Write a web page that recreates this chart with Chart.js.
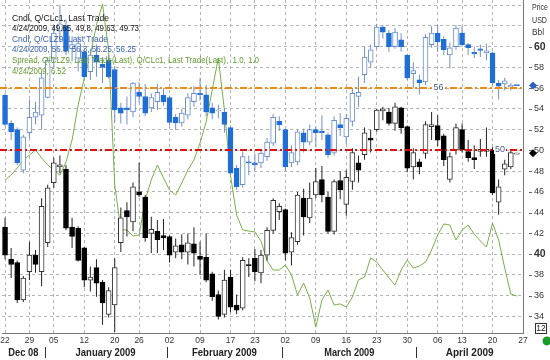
<!DOCTYPE html>
<html>
<head>
<meta charset="utf-8">
<script src="https://cdn.jsdelivr.net/npm/chart.js@4.4.0/dist/chart.umd.min.js"></script>
<style>
  html, body { margin: 0; padding: 0; background: #fff; }
  #wrap { width: 550px; height: 360px; position: relative; }
</style>
</head>
<body>
<div id="wrap"><canvas id="chart"></canvas></div>
<script>
// trading days shown on the chart (x = index into this list)
const dates = ['12/22','12/23','12/24','12/26','12/29','12/30','12/31',
  '01/02','01/05','01/06','01/07','01/08','01/09','01/12','01/13','01/14','01/15','01/16',
  '01/20','01/21','01/22','01/23','01/26','01/27','01/28','01/29','01/30',
  '02/02','02/03','02/04','02/05','02/06','02/09','02/10','02/11','02/12','02/13',
  '02/17','02/18','02/19','02/20','02/23','02/24','02/25','02/26','02/27',
  '03/02','03/03','03/04','03/05','03/06','03/09','03/10','03/11','03/12','03/13',
  '03/16','03/17','03/18','03/19','03/20','03/23','03/24','03/25','03/26','03/27','03/30','03/31',
  '04/01','04/02','04/03','04/06','04/07','04/08','04/09','04/13','04/14','04/15','04/16','04/17',
  '04/20','04/21','04/22','04/23','04/24'];

// Q/CLc1 candles
const clOpen  = [42.6,39.5,39.2,35.6,38.3,39.9,38.3,41.1,46.9,48.4,48.2,42.6,42.5,40.6,37.5,38.7,37.3,34.2,35.1,41.1,44.2,43.1,46.0,45.5,42.0,42.2,41.8,41.7,40.2,40.9,40.2,41.0,39.8,39.7,38.1,36.1,34.2,37.8,35.1,34.8,39.0,39.6,38.2,39.9,42.3,44.1,44.3,40.2,41.2,45.4,43.5,45.7,47.2,45.5,42.2,47.1,44.8,47.0,48.8,49.6,51.2,52.0,53.8,53.7,52.6,54.1,52.3,48.4,48.9,49.7,52.3,52.4,51.4,47.2,50.05,52.0,49.9,49.3,49.9,49.9,50.0,45.0,48.2,48.4,49.65];
const clHigh  = [43.5,40.6,39.4,37.9,41.2,40.4,45.4,46.7,49.3,49.5,48.6,43.5,42.7,40.7,38.8,39.5,37.5,36.8,39.6,44.5,45.0,46.9,48.8,45.7,43.6,43.3,43.4,41.8,41.5,41.9,42.0,42.6,41.2,42.0,38.3,36.5,38.5,38.5,36.1,39.7,39.6,40.5,40.4,42.6,45.4,44.9,44.4,42.1,46.0,46.3,46.9,48.3,48.5,46.0,47.2,48.0,48.1,50.2,49.5,52.2,52.0,54.0,54.2,54.1,54.6,54.2,52.4,50.2,49.2,52.8,53.7,53.4,51.6,49.8,52.6,52.6,51.0,50.5,51.1,52.2,50.3,47.2,49.1,50.0,49.8];
const clLow   = [39.5,37.7,35.3,35.4,37.5,38.2,36.9,40.7,46.4,47.8,42.3,40.6,39.3,36.8,36.4,35.9,33.2,33.9,32.5,40.2,41.7,42.2,45.5,41.2,40.1,40.1,40.4,39.2,39.6,39.5,39.0,38.8,38.0,37.3,35.5,33.7,33.9,34.4,34.2,34.6,37.8,37.4,37.2,39.4,42.0,43.3,39.4,38.9,40.9,41.8,43.0,45.4,45.0,42.0,41.9,45.3,43.7,46.2,46.9,49.1,49.8,51.8,52.9,52.4,51.9,51.6,47.9,47.2,47.7,49.2,51.0,50.4,48.5,46.9,49.6,49.8,48.9,48.2,49.4,49.4,45.7,43.8,47.6,48.2,49.63];
const clClose = [39.9,39.0,35.6,37.7,39.9,39.0,44.6,46.4,48.8,48.6,42.5,41.7,39.4,37.5,37.8,37.2,35.3,36.5,38.7,43.5,43.6,46.5,45.7,41.6,42.4,41.4,41.6,39.9,40.8,40.2,41.1,40.1,39.5,37.5,35.9,34.0,37.5,34.9,34.6,39.4,38.9,38.3,39.9,42.3,45.2,44.6,40.1,41.6,45.7,43.6,45.4,47.0,45.7,42.2,47.0,46.2,47.4,49.8,48.1,51.7,51.0,53.9,54.0,52.6,54.2,52.2,48.3,49.8,48.4,52.5,52.5,51.0,49.1,49.4,52.2,50.05,49.3,49.1,50.1,50.1,45.9,46.5,48.7,49.8,49.73];

// Q/CLZ9 candles
const z9Open  = [55.3,52.6,52.0,48.1,51.7,53.2,53.4,55.1,58.8,61.5,62.0,59.8,58.9,59.5,57.6,59.2,58.3,58.7,57.8,54.1,54.1,53.7,55.6,55.2,54.1,54.7,55.3,55.1,53.2,52.65,53.4,54.7,55.5,55.35,54.1,53.8,53.7,52.2,48.3,46.7,48.9,48.8,48.8,49.4,50.7,52.8,52.0,48.8,48.9,51.7,50.8,52.0,51.85,51.5,49.8,52.5,51.3,52.8,55.2,57.3,58.5,60.0,61.9,61.3,60.0,60.65,59.2,57.4,56.8,56.6,60.2,61.3,60.7,59.2,60.0,61.3,60.2,59.45,59.8,59.4,59.4,56.5,56.4,56.1,56.3];
const z9High  = [55.5,52.9,52.2,51.5,54.9,54.7,57.5,59.0,62.0,64.0,62.6,61.0,61.0,59.8,59.8,60.2,59.0,59.2,58.1,54.6,55.2,56.6,56.6,56.4,55.5,56.4,56.0,55.3,53.5,54.0,55.5,56.2,57.0,56.3,54.6,54.4,54.0,52.4,48.6,49.9,49.5,49.7,50.1,51.2,53.5,53.3,52.1,50.5,52.0,52.1,52.5,52.3,53.4,51.7,53.3,53.6,53.5,56.0,57.1,60.0,60.2,62.2,62.1,61.6,61.8,61.3,59.3,58.5,57.3,61.2,62.0,62.1,61.0,60.4,62.1,62.0,60.35,60.0,60.2,60.3,59.5,56.8,57.0,56.5,56.3];
const z9Low   = [52.3,51.0,48.6,47.8,51.2,52.5,52.0,55.0,58.0,60.5,59.2,58.6,57.6,56.9,56.8,57.1,56.5,56.9,52.7,52.6,52.5,53.2,54.6,53.3,53.7,53.9,54.3,52.4,52.0,52.3,53.0,54.2,54.8,53.3,53.0,53.1,51.7,47.5,46.2,46.4,47.6,48.1,48.3,49.0,50.4,51.9,48.0,48.4,48.6,49.8,50.5,50.3,51.0,49.3,49.5,51.4,50.6,52.3,54.2,56.5,58.0,59.8,60.8,59.5,59.8,59.5,56.8,56.0,55.4,56.3,59.9,59.5,59.2,57.9,59.7,60.0,59.2,58.9,59.0,58.7,56.3,54.9,55.8,55.8,56.25];
const z9Close = [52.5,51.8,48.8,51.3,53.2,53.7,57.0,58.7,61.3,62.2,59.6,60.2,60.3,57.1,59.2,58.5,58.0,57.1,53.9,53.6,53.9,56.5,55.2,53.6,55.1,55.6,54.7,52.7,52.65,53.6,55.1,55.5,55.35,53.7,53.6,53.9,52.5,47.8,46.5,49.4,48.8,48.6,49.75,50.8,53.2,52.45,48.4,49.8,51.8,50.8,52.0,51.7,51.7,49.6,52.9,52.2,53.1,55.5,55.6,59.0,59.7,61.9,61.4,60.0,61.4,60.0,57.0,57.7,56.5,60.9,61.3,60.45,59.7,59.9,61.8,60.2,59.9,59.3,59.65,59.6,56.5,56.2,56.7,56.3,56.25];

// Spread, Q/CLZ9 - Q/CLc1 (hidden scale)
const spread = [12.95,13.22,13.61,14.05,14.33,14.61,14.17,13.78,13.50,13.22,13.94,15.16,17.10,18.60,19.87,21.53,22.70,20.15,12.67,10.18,10.18,9.84,9.90,11.84,12.95,13.78,13.06,12.39,12.12,12.78,13.50,14.05,15.00,16.16,17.93,19.71,16.82,13.20,11.01,10.18,10.12,10.07,9.57,8.46,7.96,7.96,8.24,7.69,6.57,7.24,6.41,4.80,6.30,6.85,6.02,6.08,5.91,6.46,7.41,7.57,8.63,8.40,7.96,7.52,7.13,7.96,8.51,8.07,8.18,8.40,9.07,9.90,10.51,10.45,9.62,10.18,10.45,9.95,9.57,9.23,10.56,9.62,8.07,6.63,6.52];

// axis ticks
const xTickIdx = [0,4,8,13,18,22,27,32,37,41,46,51,56,61,66,71,75,80,85];
const xTickLabels = ['22','29','05','12','20','26','02','09','17','23','02','09','16','23','30','06','13','20','27'];
const yTickVals = [34,36,38,40,42,44,46,48,50,52,54,56,58,60,62,64];
const monthNames = ['Dec 08','January 2009','February 2009','March 2009','April 2009'];

const refLines = [
  { value: 56, color: '#f08a10', label: '56', at: 70.3 },
  { value: 50, color: '#dd1010', label: '50', at: 80.4 }
];

const legendLines = [
  ['Cndl, Q/CLc1, Last Trade', '#111', 97],
  ['4/24/2009, 49.65, 49.8, 49.63, 49.73', '#111', 127],
  ['Cndl, Q/CLZ9, Last Trade', '#3a64b0', 96],
  ['4/24/2009, 56.3, 56.3, 56.25, 56.25', '#3a64b0', 124],
  ['Spread, Q/CLZ9, Last Trade(Last), Q/CLc1, Last Trade(Last),  1.0, 1.0', '#5f9a2c', 247],
  ['4/24/2009, 6.52', '#5f9a2c', 54]
];

const FONT = '"Liberation Sans", Arial, sans-serif';
const last = dates.length - 1;

function bodyData(o, c) { return o.map((v, i) => ({ x: i, y: [v, c[i]] })); }
function wickData(l, h) { return l.map((v, i) => ({ x: i, y: [v, h[i]] })); }

const extras = {
  id: 'extras',
  beforeDraw(chart) {
    const ctx = chart.ctx;
    ctx.save();
    ctx.fillStyle = '#fff';
    ctx.fillRect(0, 0, chart.width, chart.height);
    ctx.restore();
  },
  afterDatasetsDraw(chart) {
    const { ctx, chartArea: a } = chart;
    const x = chart.scales.x, y = chart.scales.y;
    ctx.save();
    // horizontal reference lines
    refLines.forEach(r => {
      const py = Math.round(y.getPixelForValue(r.value));
      ctx.strokeStyle = r.color;
      ctx.lineWidth = 2;
      ctx.setLineDash([7, 3, 2, 3]);
      ctx.beginPath();
      ctx.moveTo(0, py);
      ctx.lineTo(a.right, py);
      ctx.stroke();
      ctx.setLineDash([]);
      ctx.font = '9px ' + FONT;
      const tx = x.getPixelForValue(r.at);
      const w = ctx.measureText(r.label).width;
      ctx.fillStyle = '#fff';
      ctx.fillRect(tx - 1, py - 4, w + 2, 8);
      ctx.fillStyle = '#4a5a88';
      ctx.textBaseline = 'middle';
      ctx.fillText(r.label, tx, py);
    });
    ctx.restore();
  },
  afterDraw(chart) {
    const { ctx } = chart;
    const x = chart.scales.x, y = chart.scales.y;
    ctx.save();
    // legend text
    ctx.textBaseline = 'middle';
    ctx.font = '9.5px ' + FONT;
    legendLines.forEach((l, k) => {
      ctx.fillStyle = l[1];
      ctx.fillText(l[0], 12, 18 + k * 10.6, l[2]);
    });
    // axis title
    ctx.fillStyle = '#333';
    ctx.font = '9px ' + FONT;
    [['Price', 16], ['USD', 15], ['Bbl', 12]].forEach((t, k) => ctx.fillText(t[0], 532, 8 + k * 12.5, t[1]));
    // small tick dashes on price axis
    ctx.strokeStyle = '#666';
    ctx.lineWidth = 1;
    yTickVals.filter(v => v <= 60).forEach(v => {
      const py = Math.round(y.getPixelForValue(v)) + 0.5;
      ctx.beginPath();
      ctx.moveTo(529, py);
      ctx.lineTo(532, py);
      ctx.stroke();
    });
    // last value markers
    const diamond = (py, col) => {
      ctx.fillStyle = col;
      ctx.beginPath();
      ctx.moveTo(533, py - 4);
      ctx.lineTo(537, py);
      ctx.lineTo(533, py + 4);
      ctx.lineTo(529, py);
      ctx.closePath();
      ctx.fill();
    };
    diamond(y.getPixelForValue(z9Close[last]), '#2a62c0');
    diamond(y.getPixelForValue(clClose[last]), '#000');
    // months
    const bounds = [-0.5];
    for (let i = 1; i < dates.length; i++) {
      if (dates[i].slice(0, 2) !== dates[i - 1].slice(0, 2)) bounds.push(i - 0.5);
    }
    bounds.push(x.max);
    ctx.fillStyle = '#222';
    ctx.strokeStyle = '#333';
    ctx.font = 'bold 10px ' + FONT;
    ctx.textAlign = 'center';
    monthNames.forEach((m, k) => {
      const cx = (x.getPixelForValue(bounds[k]) + x.getPixelForValue(bounds[k + 1])) / 2;
      ctx.fillText(m, cx, 353, m.length * 5);
      if (k > 0) {
        const bx = Math.round(x.getPixelForValue(bounds[k])) + 0.5;
        ctx.beginPath();
        ctx.moveTo(bx, 347);
        ctx.lineTo(bx, 358);
        ctx.stroke();
      }
    });
    // bottom right box and dot
    ctx.strokeStyle = '#333';
    ctx.strokeRect(535.5, 323.5, 11, 10);
    ctx.fillStyle = '#222';
    ctx.font = '8.5px ' + FONT;
    ctx.fillText('12', 541, 329);
    ctx.fillStyle = '#1c9a2a';
    ctx.beginPath();
    ctx.arc(547, 341, 4.5, 0, Math.PI * 2);
    ctx.fill();
    ctx.restore();
  }
};

const upOr = (o, c, a, b) => ctx => (c[ctx.dataIndex] >= o[ctx.dataIndex] ? a : b);

const chart = new Chart(document.getElementById('chart'), {
  type: 'bar',
  data: {
    datasets: [
      {
        type: 'line', label: 'Spread', yAxisID: 'ys',
        data: spread.map((v, i) => ({ x: i, y: v })),
        borderColor: '#78b04a', borderWidth: 1, pointRadius: 0, tension: 0, order: 10
      },
      {
        label: 'CLZ9 wick', yAxisID: 'y', data: wickData(z9Low, z9High),
        backgroundColor: '#7290c4', barThickness: 1, grouped: false, inflateAmount: 0, order: 6
      },
      {
        label: 'CLZ9', yAxisID: 'y', data: bodyData(z9Open, z9Close),
        backgroundColor: upOr(z9Open, z9Close, '#fff', '#1f6ed6'),
        borderColor: upOr(z9Open, z9Close, '#6a8cc6', '#1f6ed6'),
        borderWidth: 1, borderSkipped: false, barThickness: 5, minBarLength: 1, grouped: false, order: 5
      },
      {
        label: 'CLc1 wick', yAxisID: 'y', data: wickData(clLow, clHigh),
        backgroundColor: '#222', barThickness: 1, grouped: false, inflateAmount: 0, order: 4
      },
      {
        label: 'CLc1', yAxisID: 'y', data: bodyData(clOpen, clClose),
        backgroundColor: upOr(clOpen, clClose, '#fff', '#000'),
        borderColor: upOr(clOpen, clClose, '#333', '#000'),
        borderWidth: 1, borderSkipped: false, barThickness: 5, minBarLength: 1, grouped: false, order: 3
      }
    ]
  },
  options: {
    responsive: true,
    maintainAspectRatio: false,
    animation: false,
    layout: { padding: { left: 2, top: 0, right: 0, bottom: 0 } },
    plugins: { legend: { display: false }, tooltip: { enabled: false } },
    scales: {
      x: {
        type: 'linear', min: -0.5, max: 85, offset: false,
        grid: { color: '#b4b4b4', drawTicks: false, offset: false },
        border: { display: true, color: '#777', dash: [3, 3] },
        afterBuildTicks: s => { s.ticks = xTickIdx.map(v => ({ value: v })); },
        afterFit: s => { s.height = 27; s.paddingLeft = 0; s.paddingRight = 0; },
        ticks: {
          autoSkip: false, maxRotation: 0, padding: 3, color: '#333',
          font: { family: FONT, size: 8.5 },
          callback: (v, i) => xTickLabels[i]
        }
      },
      y: {
        type: 'linear', position: 'right', min: 32.4, max: 64.5,
        grid: { color: '#b4b4b4', drawTicks: false },
        border: { display: true, color: '#777', dash: [3, 3] },
        afterBuildTicks: s => { s.ticks = yTickVals.map(v => ({ value: v })); },
        afterFit: s => { s.width = 27; s.paddingTop = 0; s.paddingBottom = 0; },
        ticks: {
          padding: 11, color: '#333',
          font: c => (c.tick && c.tick.value % 20 === 0)
            ? { family: FONT, size: 10.5, weight: 'bold' }
            : { family: FONT, size: 9 },
          callback: v => (v <= 60 ? String(v) : '')
        }
      },
      ys: { type: 'linear', display: false, min: 4.47, max: 22.92 }
    }
  },
  plugins: [extras]
});
</script>
</body>
</html>
